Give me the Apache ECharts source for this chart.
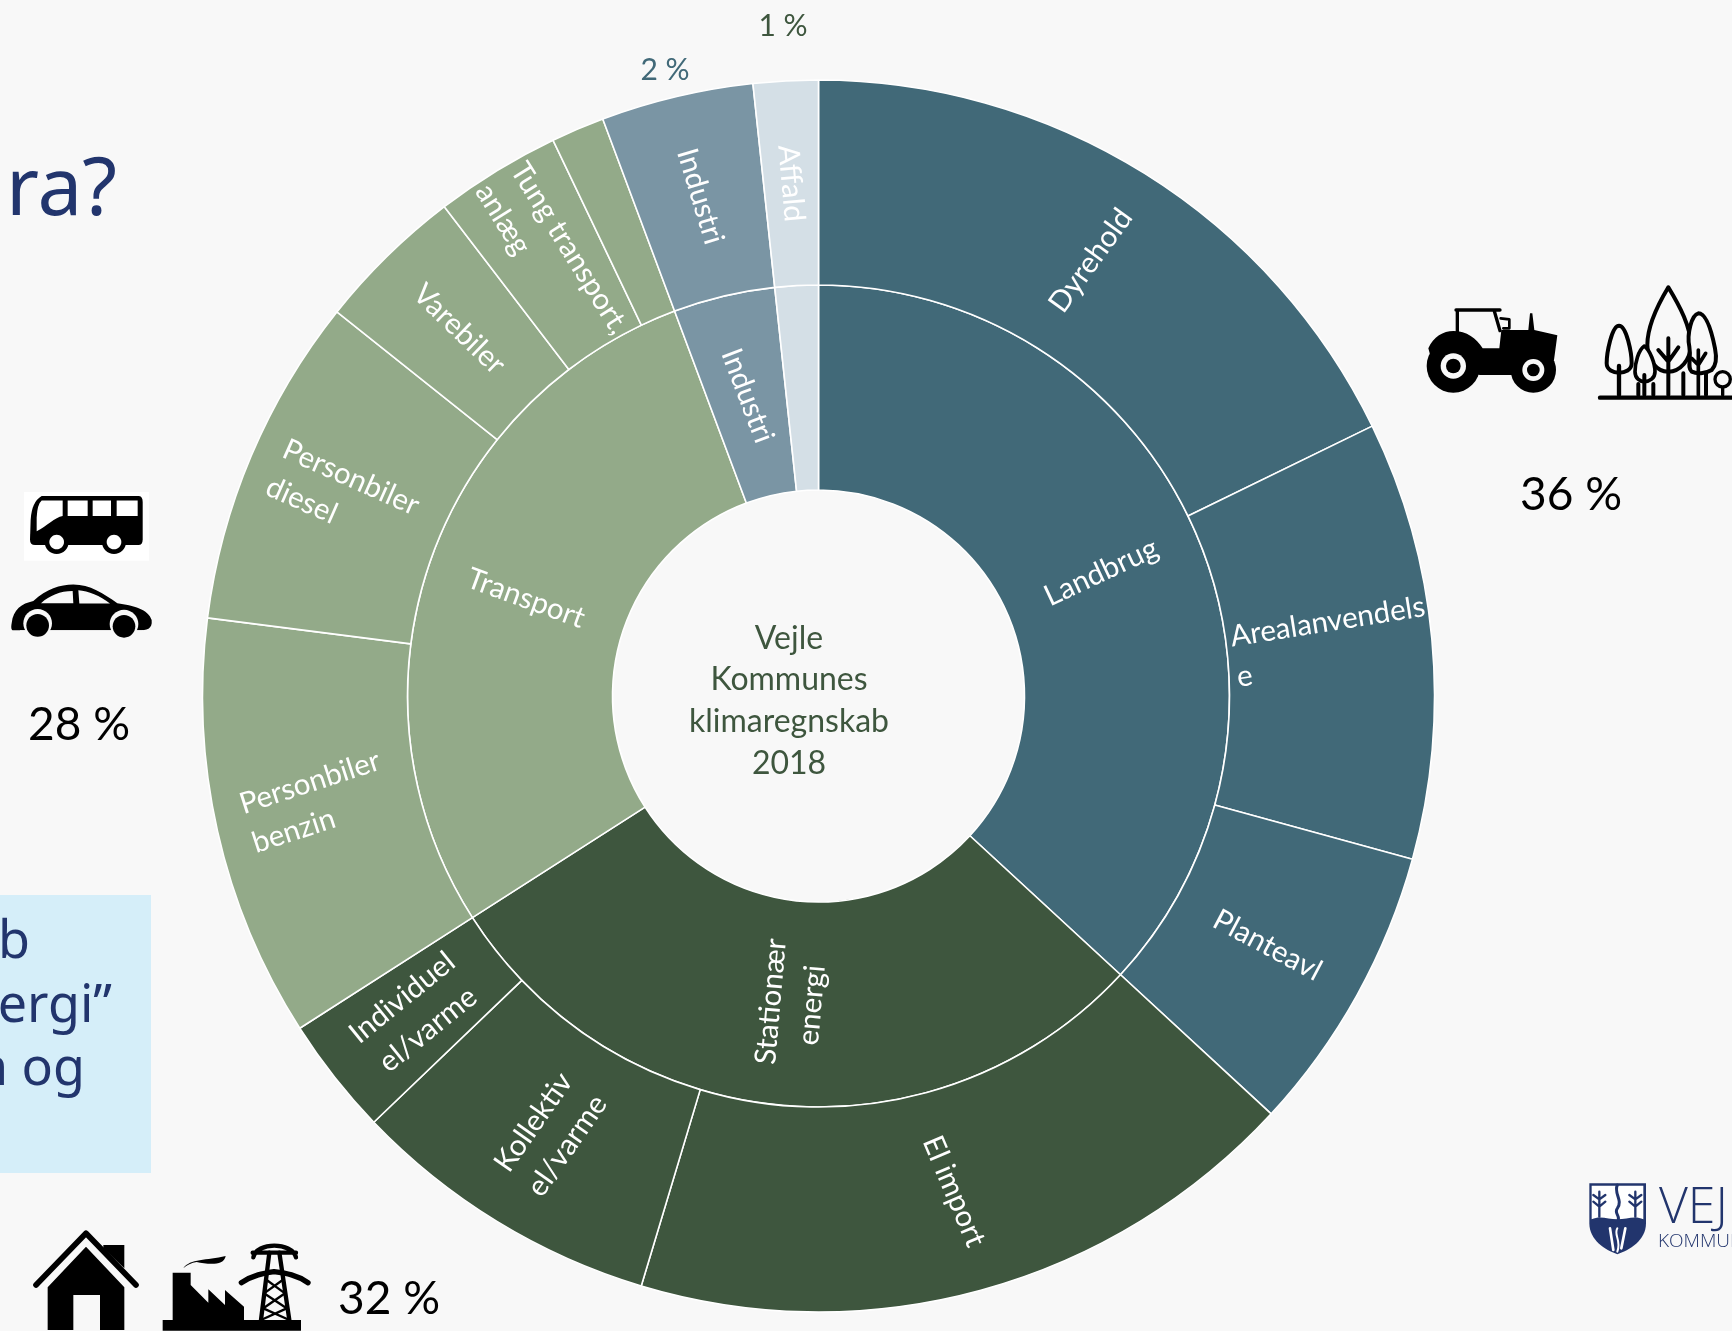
<!DOCTYPE html>
<html>
<head>
<meta charset="utf-8">
<title>Vejle Kommunes klimaregnskab 2018</title>
<script src="https://cdn.jsdelivr.net/npm/echarts@6/dist/echarts.min.js"></script>
<style>
html, body { margin: 0; padding: 0; background: #f8f8f8; }
#chart { width: 1732px; height: 1331px; }
</style>
</head>
<body>
<div id="chart"></div>
<script>
// shares of the total
var groupNames = ["Landbrug", "Stationær\nenergi", "Transport", "Industri", "Affald"];
var landbrugNames = ["Dyrehold", "Arealanvendels\ne", "Planteavl"];
var landbrugValues = [17.8, 11.5, 7.6];
var energiNames = ["El import", "Kollektiv\nel/varme", "Individuel\nel/varme"];
var energiValues = [17.8, 8.2, 3.1];
var transportNames = ["Personbiler\nbenzin", "Personbiler\ndiesel", "Varebiler", "Tung transport,\nanlæg", " "];
var transportValues = [11.1, 8.7, 3.9, 3.3, 1.4];
var industriNames = ["Industri"];
var industriValues = [4.0];
var affaldNames = ["Affald"];
var affaldValues = [1.7];

var groupColors = ["#416978", "#3e563e", "#93aa89", "#7a95a4", "#d4dfe6"];

// label rotation follows the ring, a few are anchored to one end like in the original
var innerLabels = {
  "Landbrug": { rotate: 25 },
  "Stationær\nenergi": { rotate: 85 },
  "Transport": { rotate: -20 },
  "Industri": { rotate: -69 },
  "Affald": { show: false }
};
var outerLabels = {
  "Dyrehold": { rotate: 54 },
  "Arealanvendels\ne": { rotate: 9, align: "left", distance: 6 },
  "Planteavl": { rotate: -28 },
  "El import": { rotate: -67 },
  "Kollektiv\nel/varme": { rotate: 55 },
  "Individuel\nel/varme": { rotate: 39 },
  "Personbiler\nbenzin": { rotate: 18, align: "right", distance: 30 },
  "Personbiler\ndiesel": { rotate: -24, align: "right", distance: 27 },
  "Varebiler": { rotate: -44 },
  "Tung transport,\nanlæg": { rotate: -58, align: "right", distance: 6 },
  " ": { show: false },
  "Industri": { rotate: -73 },
  "Affald": { rotate: -85 }
};

function leaves(names, values, color) {
  return names.map(function (name, i) {
    return { name: name, value: values[i], label: outerLabels[name], itemStyle: { color: color } };
  });
}

var childNames = [landbrugNames, energiNames, transportNames, industriNames, affaldNames];
var childValues = [landbrugValues, energiValues, transportValues, industriValues, affaldValues];
var treeData = groupNames.map(function (name, i) {
  return {
    name: name,
    label: innerLabels[name],
    itemStyle: { color: groupColors[i] },
    children: leaves(childNames[i], childValues[i], groupColors[i])
  };
});

var bg = "#f8f8f8";
var ink = "#000000";
var navy = "#22356d";
var labelFont = "Lato";

// zrender has no alphabetic baseline, y is given as baseline and shifted here
function text(str, x, y, size, color, align, font, weight) {
  return {
    type: "text",
    x: x,
    y: y - size * 0.82,
    silent: true,
    style: {
      text: str,
      fill: color,
      font: (weight || 400) + " " + size + 'px "' + (font || labelFont) + '"',
      textAlign: align || "left"
    }
  };
}
// the graphic component has no plain path type, so each svg path gets registered
var shapeCount = 0;
function pathType(d) {
  var name = "iconPath" + shapeCount++;
  echarts.graphic.registerShape(name, echarts.graphic.extendPath(d, {}));
  return name;
}
function fillPath(d, color) {
  return { type: pathType(d), style: { fill: color || ink } };
}
function strokePath(d, w, color, fill) {
  return {
    type: pathType(d),
    style: { fill: fill || "none", stroke: color || ink, lineWidth: w, lineCap: "round", lineJoin: "round" }
  };
}
function disc(cx, cy, r, color) {
  return { type: "circle", shape: { cx: cx, cy: cy, r: r }, style: { fill: color } };
}
// the bus and car crop was not scaled evenly, keep their wheels round on the page
function wheel(cx, cy, r, color) {
  return { type: "ellipse", shape: { cx: cx, cy: cy, rx: r, ry: r * 2.24 / 3 }, style: { fill: color } };
}
function icon(x, y, sx, sy, children) {
  return { type: "group", x: x, y: y, scaleX: sx, scaleY: sy, silent: true, children: children };
}

// icons are drawn in the pixel space of the zoomed crops, then scaled back
var tractor = icon(1400, 260, 1 / 3, 1 / 3, [
  strokePath("M168 150 L300 150 M172 150 L172 215 M282 150 L300 212", 10),
  strokePath("M302 175 L328 178 L328 205 L310 205", 8),
  fillPath("M85 265 C100 230 130 213 160 213 C200 213 230 235 248 265 L298 265 L304 210 L385 210 L390 160 L397 160 L403 210 L472 226 L462 300 L400 345 L240 345 L100 320 Z"),
  disc(160, 318, 80, ink), disc(160, 318, 38, bg), disc(160, 318, 22, ink),
  disc(400, 330, 68, ink), disc(400, 330, 33, bg), disc(400, 330, 19, ink)
]);
var trees = icon(1400, 260, 1 / 3, 1 / 3, [
  strokePath("M600 413 L1000 413", 13),
  strokePath("M805 235 L805 405 M775 270 L805 305 L835 262 M850 340 L850 405 M918 340 L918 405 M760 372 L760 405 M715 372 L715 405", 12),
  strokePath("M805 82 C770 140 742 200 742 255 C742 300 770 335 805 335 C840 335 872 300 872 255 C872 200 840 140 805 82 Z", 12),
  strokePath("M657 197 C635 197 620 280 620 310 C620 330 640 338 657 338 C675 338 695 330 695 310 C695 280 680 197 657 197 Z", 12, ink, bg),
  strokePath("M657 318 L657 405", 13),
  strokePath("M733 258 C715 270 705 310 705 335 C705 355 720 365 733 365 C748 365 765 355 765 335 C765 310 750 270 733 258 Z", 11, ink, bg),
  strokePath("M733 345 L733 405", 12),
  strokePath("M895 160 C875 165 860 220 868 260 C875 300 860 320 875 335 C890 342 915 342 935 330 C950 315 950 290 945 265 C935 215 920 160 895 160 Z", 12, ink, bg),
  strokePath("M895 270 L895 405 M875 295 L895 315 L917 280", 11),
  strokePath("M968 380 L968 405", 10),
  { type: "circle", shape: { cx: 968, cy: 358, r: 23 }, style: { fill: bg, stroke: ink, lineWidth: 10 } }
]);
var bus = icon(0, 100, 1 / 3, 1 / 2.24, [
  { type: "rect", shape: { x: 72, y: 878, width: 375, height: 154 }, style: { fill: "#ffffff" } },
  fillPath("M125 887 L415 887 Q428 887 428 900 L428 985 Q428 997 415 997 L105 997 Q90 997 90 985 L92 940 Q95 900 125 887 Z"),
  fillPath("M125 897 L188 897 L188 932 C165 935 140 955 110 966 L110 935 Q112 905 125 897 Z", "#ffffff"),
  fillPath("M203 897 L263 897 L263 932 L203 932 Z M278 897 L333 897 L333 932 L278 932 Z M350 897 L413 897 L413 932 L350 932 Z", "#ffffff"),
  wheel(170, 990, 36, ink), wheel(170, 990, 22, "#ffffff"),
  wheel(342, 990, 36, ink), wheel(342, 990, 22, "#ffffff")
]);
var car = icon(0, 100, 1 / 3, 1 / 2.24, [
  fillPath("M35 1172 C40 1140 65 1128 100 1122 C140 1095 180 1085 220 1085 C270 1085 310 1105 352 1127 C400 1132 445 1140 455 1165 C458 1186 440 1188 415 1188 L40 1188 C33 1188 33 1180 35 1172 Z"),
  fillPath("M123 1127 L220 1127 L218 1100 C180 1100 150 1110 123 1127 Z M238 1128 L330 1128 C300 1110 265 1100 235 1098 Z", bg),
  wheel(113, 1172, 43, bg), wheel(372, 1174, 43, bg),
  fillPath("M60 1188 L430 1188 L430 1225 L60 1225 Z", bg),
  wheel(113, 1177, 34, ink), wheel(372, 1179, 34, ink)
]);
var house = icon(0, 880, 1 / 3, 1 / 3, [
  fillPath("M310 1095 L373 1095 L373 1165 L310 1105 Z"),
  strokePath("M108 1215 L258 1060 L408 1215", 17),
  fillPath("M143 1350 L143 1222 L258 1100 L373 1222 L373 1350 L300 1350 L300 1245 L220 1245 L220 1350 Z")
]);
var factory = icon(0, 880, 1 / 3, 1 / 3, [
  fillPath("M488 1320 L518 1320 L518 1178 L572 1178 L572 1215 L625 1268 L625 1228 L675 1275 L675 1230 L732 1280 L732 1320 L903 1320 L903 1352 L488 1352 Z"),
  fillPath("M550 1165 C570 1135 620 1142 677 1128 C672 1160 620 1152 590 1146 C575 1148 560 1155 550 1165 Z")
]);
var pylon = icon(0, 880, 1 / 3, 1 / 3, [
  strokePath("M760 1132 C770 1085 875 1085 888 1132 M758 1118 L888 1118", 13),
  strokePath("M724 1208 C760 1185 790 1180 822 1175 C860 1180 890 1185 924 1208", 16),
  strokePath("M808 1118 L783 1320 M838 1118 L868 1320", 13),
  strokePath("M800 1200 L855 1240 L790 1285 L868 1320 M848 1200 L792 1240 L860 1285 L783 1320", 7),
  disc(822, 1153, 8, bg)
]);
var crest = icon(1560, 1160, 1 / 3, 1 / 3, [
  fillPath("M88 70 L258 70 L258 190 C258 240 210 270 172 283 C135 270 88 240 88 190 Z", navy),
  fillPath("M95 77 L250 77 L250 178 C225 165 200 178 172 178 C145 178 120 165 95 178 Z", "#ffffff"),
  strokePath("M172 75 C160 100 190 120 172 145 C160 160 185 170 172 185", 9, navy),
  strokePath("M172 205 C160 225 185 240 172 275", 6, "#ffffff"),
  strokePath("M150 205 L160 270 M196 205 L184 265", 8, "#ffffff"),
  strokePath("M118 95 L118 170 M100 125 L118 140 L136 125 M100 105 L118 118 L136 105", 7, navy),
  strokePath("M226 95 L226 170 M208 125 L226 140 L244 125 M208 105 L226 118 L244 105", 7, navy)
]);

var myChart = echarts.init(document.getElementById("chart"));
myChart.setOption({
  backgroundColor: bg,
  animation: false,
  series: [
    {
      type: "sunburst",
      center: [818.5, 696],
      radius: [206, 616],
      sort: null,
      nodeClick: false,
      startAngle: 90,
      data: treeData,
      itemStyle: { borderColor: "#ffffff", borderWidth: 1.6 },
      label: {
        color: "#ffffff",
        fontFamily: labelFont,
        fontSize: 29.5,
        lineHeight: 41,
        minAngle: 0
      },
      emphasis: { focus: "none" },
      levels: [
        {},
        {},
        {}
      ]
    }
  ],
  graphic: [
    text("ra?", 117, 218, 80, navy, "right", "Noto Sans"),
    { type: "rect", silent: true, shape: { x: 0, y: 895, width: 151, height: 278 }, style: { fill: "#d5eef9" } },
    text("b", 30, 960, 52, navy, "right", "Noto Sans"),
    text("ergi”", 112, 1024, 52, navy, "right", "Noto Sans"),
    text("n og", 85, 1087, 52, navy, "right", "Noto Sans"),

    text("Vejle", 789, 649, 32, "#3e563e", "center"),
    text("Kommunes", 789, 690, 32, "#3e563e", "center"),
    text("klimaregnskab", 789, 732, 32, "#3e563e", "center"),
    text("2018", 789, 774, 32, "#3e563e", "center"),

    text("1 %", 783, 36, 30, "#3e563e", "center"),
    text("2 %", 665, 80, 30, "#416978", "center"),
    text("36 %", 1571, 510, 46, ink, "center"),
    text("28 %", 79, 740, 46, ink, "center"),
    text("32 %", 389, 1314, 46, ink, "center"),

    tractor, trees, bus, car, house, factory, pylon, crest,
    text("VEJLE", 1659, 1225, 50, navy, "left", "Open Sans", 300),
    text("KOMMUNE", 1658, 1248, 19, navy, "left", "Open Sans", 300)
  ]
});
</script>
</body>
</html>
